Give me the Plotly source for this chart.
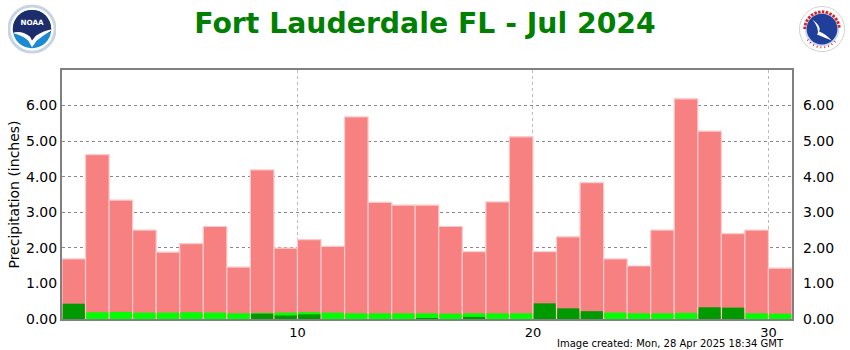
import base64
import plotly.graph_objects as go

# Daily precipitation, Fort Lauderdale FL, July 2024 (inches)
days = list(range(1, 32))
record = [1.69, 4.62, 3.34, 2.50, 1.88, 2.12, 2.60, 1.46, 4.19, 1.99,
          2.23, 2.04, 5.68, 3.28, 3.20, 3.20, 2.60, 1.89, 3.29, 5.12,
          1.89, 2.31, 3.83, 1.69, 1.49, 2.50, 6.19, 5.28, 2.40, 2.50, 1.43]
normal = [0.17, 0.19, 0.20, 0.18, 0.18, 0.19, 0.18, 0.16, 0.17, 0.18,
          0.19, 0.18, 0.16, 0.16, 0.16, 0.16, 0.15, 0.16, 0.16, 0.16,
          0.16, 0.17, 0.17, 0.18, 0.16, 0.16, 0.17, 0.17, 0.18, 0.16, 0.15]
observed = [0.43, 0.00, 0.00, 0.00, 0.00, 0.00, 0.00, 0.00, 0.15, 0.10,
            0.13, 0.00, 0.00, 0.00, 0.00, 0.02, 0.00, 0.06, 0.00, 0.00,
            0.44, 0.30, 0.22, 0.00, 0.00, 0.00, 0.00, 0.33, 0.32, 0.00, 0.00]

title_text = "Fort Lauderdale FL - Jul 2024"
y_title = "Precipitation (inches)"
credit = "Image created: Mon, 28 Apr 2025 18:34 GMT"
x_ticks = [10, 20, 30]
y_ticks = [0, 1, 2, 3, 4, 5, 6]

FONT = "DejaVu Sans, Verdana, sans-serif"

# bar centres sit in the middle of each day slot on a 0..31 axis
xc = [d - 0.5 for d in days]

fig = go.Figure()
fig.add_bar(x=xc, y=record, width=1, marker=dict(color="#F78181",
            line=dict(color="#FCC8C8", width=1.2)), name="Record", hoverinfo="y")
fig.add_bar(x=xc, y=normal, width=0.94, marker=dict(color="#00FF00",
            line=dict(width=0)), name="Normal", hoverinfo="y")
fig.add_bar(x=xc, y=observed, width=0.94, marker=dict(color="#009A00",
            line=dict(width=0)), name="Observed", hoverinfo="y")
# invisible trace to carry the right-hand axis
fig.add_scatter(x=[0], y=[0], yaxis="y2", mode="markers",
                marker=dict(opacity=0), showlegend=False, hoverinfo="skip")

noaa_svg = """<svg xmlns='http://www.w3.org/2000/svg' width='100' height='100' viewBox='0 0 100 100'>
<circle cx='50' cy='50' r='48' fill='#ffffff' stroke='#c9d3e6' stroke-width='6'/>
<clipPath id='c'><circle cx='50' cy='50' r='40'/></clipPath>
<g clip-path='url(#c)'>
<rect x='0' y='0' width='100' height='100' fill='#1a8ad4'/>
<path d='M0 0 H100 V52 Q78 58 62 70 L50 80 L40 66 Q22 56 0 60 Z' fill='#1d2d6b'/>
<path d='M8 58 Q30 52 46 66 L50 74 L58 64 Q76 52 96 50 Q74 62 60 74 L50 88 L42 74 Q30 62 8 58 Z' fill='#ffffff'/>
</g>
<text x='50' y='42' font-family='DejaVu Sans' font-weight='bold' font-size='15' fill='#ffffff' text-anchor='middle'>NOAA</text>
</svg>"""

nws_svg = """<svg xmlns='http://www.w3.org/2000/svg' width='100' height='100' viewBox='0 0 100 100'>
<circle cx='50' cy='50' r='47' fill='#ffffff' stroke='#d0d0d0' stroke-width='2'/>
<circle cx='50' cy='50' r='34' fill='#1f3f9a' stroke='#c8d8f0' stroke-width='4'/>
<path d='M30 30 Q50 45 44 55 Q58 60 70 74 Q52 66 40 62 Q46 50 30 30 Z' fill='#ffffff'/>
<path d='M14 50 A36 36 0 0 1 86 50' fill='none' stroke='#e02020' stroke-width='6' stroke-dasharray='5 3'/>
<path d='M20 72 A36 36 0 0 0 80 72' fill='none' stroke='#e02020' stroke-width='4' stroke-dasharray='2 6'/>
</svg>"""


def data_uri(svg):
    return "data:image/svg+xml;base64," + base64.b64encode(svg.encode()).decode()


# pixel geometry of the plotting area
L, R, T, B = 62, 792, 70, 319.5
W, H = R - L, B - T


def px_x(p):
    return (p - L) / W


def px_y(p):
    return (B - p) / H


fig.add_layout_image(source=data_uri(noaa_svg), xref="paper", yref="paper",
                     x=px_x(8), y=px_y(4), sizex=48 / W, sizey=50 / H,
                     xanchor="left", yanchor="top", sizing="contain", layer="above")
fig.add_layout_image(source=data_uri(nws_svg), xref="paper", yref="paper",
                     x=px_x(798), y=px_y(4), sizex=48 / W, sizey=50 / H,
                     xanchor="left", yanchor="top", sizing="contain", layer="above")

fig.add_annotation(text=credit, xref="paper", yref="paper", x=px_x(786), y=px_y(344),
                   xanchor="right", yanchor="middle", showarrow=False,
                   font=dict(family=FONT, size=10, color="#000000"))

axis_line = dict(showline=True, linecolor="#808080", linewidth=2, mirror=True)

fig.update_layout(
    width=850, height=350,
    margin=dict(l=L, r=850 - R, t=T, b=350 - B, pad=0, autoexpand=False),
    paper_bgcolor="white", plot_bgcolor="white",
    barmode="overlay", showlegend=False,
    title=dict(text=title_text, x=0.5, xref="container", xanchor="center",
               y=1 - 23 / 350, yref="container", yanchor="middle",
               font=dict(family=FONT, size=28.3, color="#008000", weight="bold")),
    xaxis=dict(range=[0, 31], tickvals=x_ticks, ticktext=[str(v) for v in x_ticks],
               showgrid=True, gridcolor="#BBBBBB", griddash="dot", gridwidth=1,
               ticks="", tickfont=dict(family=FONT, size=13, color="#000000"),
               zeroline=False, automargin=False, **axis_line),
    yaxis=dict(range=[0, 7], tickvals=y_ticks, ticktext=[f"{v:.2f}" for v in y_ticks],
               showgrid=True, gridcolor="#888888", griddash="dot", gridwidth=1,
               ticks="", tickfont=dict(family=FONT, size=14, color="#000000"),
               zeroline=False, automargin=False,
               title=dict(text=y_title, standoff=3,
                          font=dict(family=FONT, size=14, color="#000000")),
               **axis_line),
    yaxis2=dict(range=[0, 7], tickvals=y_ticks, ticktext=[f"{v:.2f}" for v in y_ticks],
                overlaying="y", side="right", showgrid=False, zeroline=False,
                ticks="", ticklabelstandoff=10, automargin=False,
                tickfont=dict(family=FONT, size=14, color="#000000")),
)

fig.write_html("out.html")
